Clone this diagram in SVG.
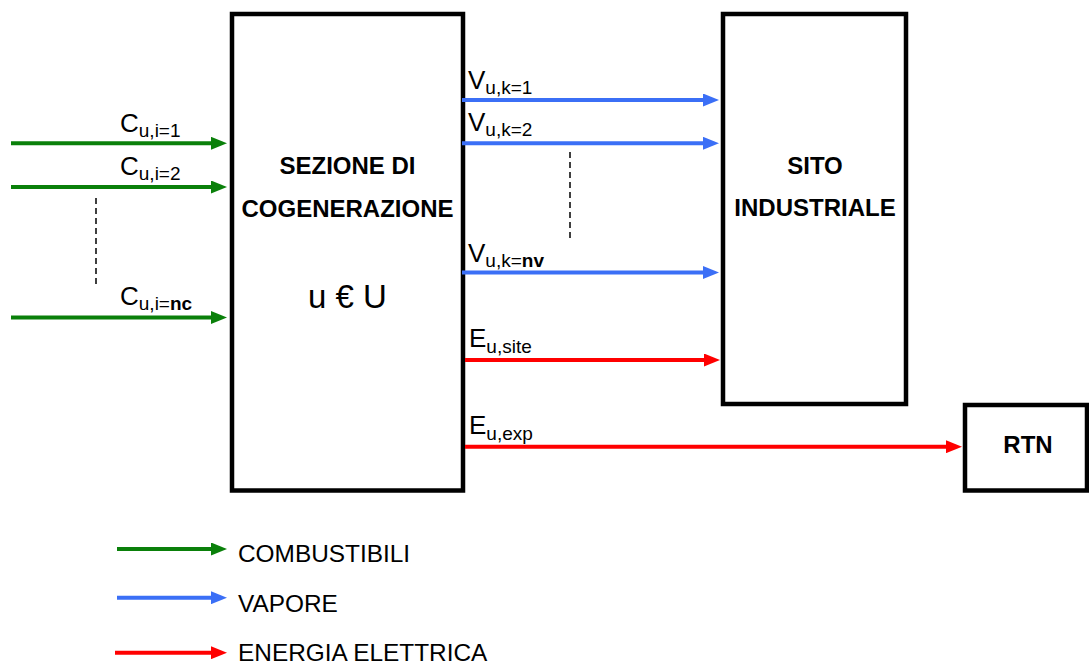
<svg xmlns="http://www.w3.org/2000/svg" width="1089" height="666" viewBox="0 0 1089 666">
<style>
text{font-family:"Liberation Sans",Arial,sans-serif;fill:#000}
.box{fill:#fff;stroke:#000;stroke-width:4.5}
.t{font-size:24px;font-weight:bold;text-anchor:middle}
.lbl{font-size:26px}
.sub{font-size:19px}
.b{font-weight:bold}
.g{stroke:#0a800a;stroke-width:4;fill:none;marker-end:url(#ag)}
.bl{stroke:#3b6ff6;stroke-width:4;fill:none;marker-end:url(#ab)}
.r{stroke:#ff0000;stroke-width:4;fill:none;marker-end:url(#ar)}
.d{stroke:#000;stroke-width:1.5;stroke-dasharray:6 4;fill:none}
.leg{font-size:24.4px}
</style>
<defs>
<marker id="ag" markerUnits="userSpaceOnUse" viewBox="0 0 16 13" refX="1" refY="6.5" markerWidth="16" markerHeight="13" orient="auto"><path d="M0,0 L16,6.5 L0,13 z" fill="#0a800a"/></marker>
<marker id="ab" markerUnits="userSpaceOnUse" viewBox="0 0 16 13" refX="1" refY="6.5" markerWidth="16" markerHeight="13" orient="auto"><path d="M0,0 L16,6.5 L0,13 z" fill="#3b6ff6"/></marker>
<marker id="ar" markerUnits="userSpaceOnUse" viewBox="0 0 16 13" refX="1" refY="6.5" markerWidth="16" markerHeight="13" orient="auto"><path d="M0,0 L16,6.5 L0,13 z" fill="#ff0000"/></marker>
</defs>
<rect width="1089" height="666" fill="#fff"/>
<g id="sezione">
<rect class="box" x="232" y="14" width="231" height="476.5"/>
<text class="t" x="347.5" y="174.3">SEZIONE DI</text>
<text class="t" x="347.5" y="217.3">COGENERAZIONE</text>
<text x="347.5" y="308.3" font-size="33" text-anchor="middle">u € U</text>
</g>
<g id="sito">
<rect class="box" x="723" y="14" width="183" height="390"/>
<text class="t" x="815" y="174.3">SITO</text>
<text class="t" x="815" y="216">INDUSTRIALE</text>
</g>
<g id="rtn">
<rect class="box" x="965" y="405" width="122" height="85.5"/>
<text class="t" x="1028" y="453.3">RTN</text>
</g>
<g id="connectors">
<line class="g" x1="11" y1="143.3" x2="212" y2="143.3"/>
<line class="g" x1="11" y1="187" x2="212" y2="187"/>
<line class="g" x1="11" y1="317.5" x2="212" y2="317.5"/>
<line class="d" x1="96" y1="198" x2="96" y2="284"/>
<line class="bl" x1="462" y1="100" x2="704" y2="100"/>
<line class="bl" x1="462" y1="143.3" x2="704" y2="143.3"/>
<line class="bl" x1="462" y1="272.5" x2="704" y2="272.5"/>
<line class="d" x1="570" y1="152" x2="570" y2="238"/>
<line class="r" x1="465" y1="360" x2="705" y2="360"/>
<line class="r" x1="465" y1="446.7" x2="947" y2="446.7"/>
</g>
<g id="labels">
<text class="lbl" x="120" y="132">C<tspan class="sub" dy="5">u,i=1</tspan></text>
<text class="lbl" x="120" y="175">C<tspan class="sub" dy="5">u,i=2</tspan></text>
<text class="lbl" x="120" y="305">C<tspan class="sub" dy="5">u,i=<tspan class="b">nc</tspan></tspan></text>
<text class="lbl" x="468" y="88.5">V<tspan class="sub" dy="5">u,k=1</tspan></text>
<text class="lbl" x="468" y="131">V<tspan class="sub" dy="5">u,k=2</tspan></text>
<text class="lbl" x="468" y="262">V<tspan class="sub" dy="5">u,k=<tspan class="b">nv</tspan></tspan></text>
<text class="lbl" x="469" y="347">E<tspan class="sub" dy="6">u,site</tspan></text>
<text class="lbl" x="469" y="433.5">E<tspan class="sub" dy="6">u,exp</tspan></text>
</g>
<g id="legend">
<line class="g" x1="117" y1="549" x2="212" y2="549"/>
<text class="leg" x="238" y="561.7">COMBUSTIBILI</text>
<line class="bl" x1="117" y1="597.7" x2="212" y2="597.7"/>
<text class="leg" x="238" y="611.7">VAPORE</text>
<line class="r" x1="115" y1="652.7" x2="212" y2="652.7"/>
<text class="leg" x="238" y="661">ENERGIA ELETTRICA</text>
</g>
</svg>
